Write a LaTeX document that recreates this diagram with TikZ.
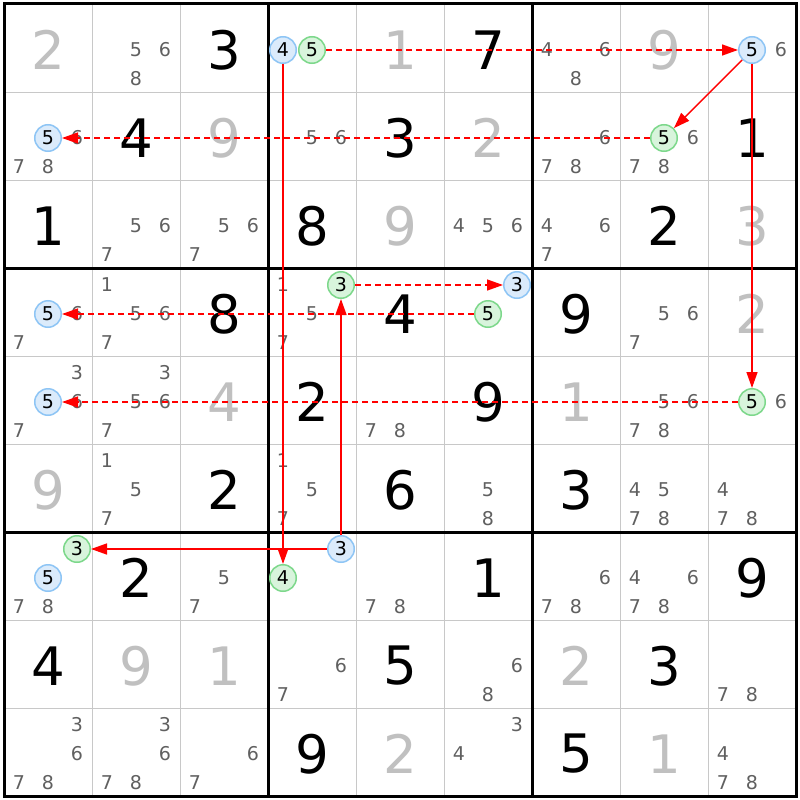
\documentclass[tikz,border=0pt]{standalone}
\usepackage{fontspec}
\setmainfont{DejaVu Sans}
\usetikzlibrary{arrows.meta}
\definecolor{solvedgray}{HTML}{C0C0C0}
\definecolor{candgray}{HTML}{606060}
\definecolor{thingrid}{HTML}{C8C8C8}
\definecolor{bluefill}{HTML}{DBEBFB}
\definecolor{bluedraw}{HTML}{8EC5F5}
\definecolor{greenfill}{HTML}{D8F4DC}
\definecolor{greendraw}{HTML}{7DD88B}
\tikzset{
  given/.style={inner sep=0pt, font=\fontsize{53}{53}\selectfont, text=black},
  solved/.style={inner sep=0pt, font=\fontsize{53}{53}\selectfont, text=solvedgray},
  cand/.style={inner sep=0pt, font=\fontsize{19}{19}\selectfont, text=candgray},
  bluecirc/.style={circle, draw=bluedraw, fill=bluefill, line width=1.5pt, minimum size=26.5pt, inner sep=0pt, font=\fontsize{19}{19}\selectfont, text=black},
  greencirc/.style={circle, draw=greendraw, fill=greenfill, line width=1.5pt, minimum size=26.5pt, inner sep=0pt, font=\fontsize{19}{19}\selectfont, text=black},
  strong/.style={draw=red, line width=1.4pt, -{Triangle[length=16pt,width=11pt]}},
  weak/.style={strong, dash pattern=on 6pt off 4pt},
  thinline/.style={draw=thingrid, line width=1pt},
  thickline/.style={draw=black, line width=3pt},
}
\newcommand\Cands[3]{%
  \foreach \k in {#3}{%
    \pgfmathsetmacro\cx{4+88*#2+15+29*mod(\k-1,3)}%
    \pgfmathsetmacro\cy{4+88*#1+17+29*floor((\k-1)/3)}%
    \node[cand] (k#1#2\k) at (\cx,\cy) {\k};
  }}
\newcommand\Given[3]{\node[given] (g#1#2) at ({48+88*#2},{50+88*#1}) {#3};}
\newcommand\Solved[3]{\node[solved] (s#1#2) at ({48+88*#2},{50+88*#1}) {#3};}
\newcommand\Circ[5]{%
  \pgfmathsetmacro\cx{4+88*#3+15+29*mod(#4-1,3)}%
  \pgfmathsetmacro\cy{4+88*#2+17+29*floor((#4-1)/3)}%
  \node[#1] (#5) at (\cx,\cy) {#4};}
\begin{document}
\begin{tikzpicture}[x=1pt,y=-1pt]
\useasboundingbox (0,0) rectangle (800,800);
\fill[white] (0,0) rectangle (800,800);
% grid
\foreach \i in {1,2,4,5,7,8}{
  \draw[thinline] ({4+88*\i},4) -- ({4+88*\i},796);
  \draw[thinline] (4,{4+88*\i}) -- (796,{4+88*\i});
}
\foreach \i in {3,6}{
  \draw[thickline] ({4+88*\i},4) -- ({4+88*\i},796);
  \draw[thickline] (4,{4+88*\i}) -- (796,{4+88*\i});
}
\draw[thickline] (4,4) rectangle (796,796);
% row 0
\Solved{0}{0}{2}
\Cands{0}{1}{5,6,8}
\Given{0}{2}{3}
\Solved{0}{4}{1}
\Given{0}{5}{7}
\Cands{0}{6}{4,6,8}
\Solved{0}{7}{9}
\Cands{0}{8}{6}
% row 1
\Cands{1}{0}{6,7,8}
\Given{1}{1}{4}
\Solved{1}{2}{9}
\Cands{1}{3}{5,6}
\Given{1}{4}{3}
\Solved{1}{5}{2}
\Cands{1}{6}{6,7,8}
\Cands{1}{7}{6,7,8}
\Given{1}{8}{1}
% row 2
\Given{2}{0}{1}
\Cands{2}{1}{5,6,7}
\Cands{2}{2}{5,6,7}
\Given{2}{3}{8}
\Solved{2}{4}{9}
\Cands{2}{5}{4,5,6}
\Cands{2}{6}{4,6,7}
\Given{2}{7}{2}
\Solved{2}{8}{3}
% row 3
\Cands{3}{0}{6,7}
\Cands{3}{1}{1,5,6,7}
\Given{3}{2}{8}
\Cands{3}{3}{1,5,7}
\Given{3}{4}{4}
\Given{3}{6}{9}
\Cands{3}{7}{5,6,7}
\Solved{3}{8}{2}
% row 4
\Cands{4}{0}{3,6,7}
\Cands{4}{1}{3,5,6,7}
\Solved{4}{2}{4}
\Given{4}{3}{2}
\Cands{4}{4}{7,8}
\Given{4}{5}{9}
\Solved{4}{6}{1}
\Cands{4}{7}{5,6,7,8}
\Cands{4}{8}{6}
% row 5
\Solved{5}{0}{9}
\Cands{5}{1}{1,5,7}
\Given{5}{2}{2}
\Cands{5}{3}{1,5,7}
\Given{5}{4}{6}
\Cands{5}{5}{5,8}
\Given{5}{6}{3}
\Cands{5}{7}{4,5,7,8}
\Cands{5}{8}{4,7,8}
% row 6
\Cands{6}{0}{7,8}
\Given{6}{1}{2}
\Cands{6}{2}{5,7}
\Cands{6}{4}{7,8}
\Given{6}{5}{1}
\Cands{6}{6}{6,7,8}
\Cands{6}{7}{4,6,7,8}
\Given{6}{8}{9}
% row 7
\Given{7}{0}{4}
\Solved{7}{1}{9}
\Solved{7}{2}{1}
\Cands{7}{3}{6,7}
\Given{7}{4}{5}
\Cands{7}{5}{6,8}
\Solved{7}{6}{2}
\Given{7}{7}{3}
\Cands{7}{8}{7,8}
% row 8
\Cands{8}{0}{3,6,7,8}
\Cands{8}{1}{3,6,7,8}
\Cands{8}{2}{6,7}
\Given{8}{3}{9}
\Solved{8}{4}{2}
\Cands{8}{5}{3,4}
\Given{8}{6}{5}
\Solved{8}{7}{1}
\Cands{8}{8}{4,7,8}
% highlighted candidates
\Circ{bluecirc}{0}{3}{4}{b034}
\Circ{greencirc}{0}{3}{5}{g035}
\Circ{bluecirc}{0}{8}{5}{b085}
\Circ{bluecirc}{1}{0}{5}{b105}
\Circ{greencirc}{1}{7}{5}{g175}
\Circ{bluecirc}{3}{0}{5}{b305}
\Circ{greencirc}{3}{3}{3}{g333}
\Circ{bluecirc}{3}{5}{3}{b353}
\Circ{greencirc}{3}{5}{5}{g355}
\Circ{bluecirc}{4}{0}{5}{b405}
\Circ{greencirc}{4}{8}{5}{g485}
\Circ{greencirc}{6}{0}{3}{g603}
\Circ{bluecirc}{6}{0}{5}{b605}
\Circ{bluecirc}{6}{3}{3}{b633}
\Circ{greencirc}{6}{3}{4}{g634}
% links
\draw[weak] (g035) -- (b085);
\draw[strong] (b085) -- (g175);
\draw[strong] (b085) -- (g485);
\draw[weak] (g175) -- (b105);
\draw[weak] (g485) -- (b405);
\draw[weak] (g355) -- (b305);
\draw[strong] (b034) -- (g634);
\draw[strong] (b633) -- (g333);
\draw[weak] (g333) -- (b353);
\draw[strong] (b633) -- (g603);
\end{tikzpicture}
\end{document}
